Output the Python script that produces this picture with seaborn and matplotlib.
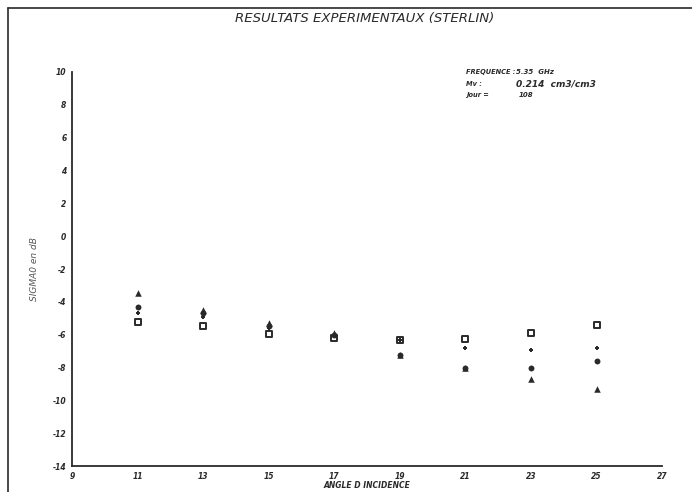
import matplotlib
matplotlib.use("Agg")
import matplotlib.pyplot as plt
import seaborn as sns
import pandas as pd
from matplotlib.lines import Line2D

angles = [11, 13, 15, 17, 19, 21, 23, 25]
s_square = [-5.2, -5.5, -5.95, -6.2, -6.3, -6.25, -5.9, -5.4]
s_plus = [-4.7, -4.9, -5.6, -6.1, -6.35, -6.8, -6.95, -6.8]
s_circle = [-4.3, -4.7, -5.5, -6.0, -7.25, -8.0, -8.0, -7.6]
s_triangle = [-3.45, -4.5, -5.3, -5.9, -7.25, -8.0, -8.7, -9.3]

x_ticks = [9, 11, 13, 15, 17, 19, 21, 23, 25, 27]
y_ticks = [10, 8, 6, 4, 2, 0, -2, -4, -6, -8, -10, -12, -14]

title = "RESULTATS EXPERIMENTAUX (STERLIN)"
xlabel = "ANGLE D INCIDENCE"
ylabel = "SIGMA0 en dB"
info_labels = ["FREQUENCE :", "Mv :", "Jour ="]
info_values = ["5.35  GHz", "0.214  cm3/cm3", "108"]

rows = []
for name, vals in [("square", s_square), ("plus", s_plus),
                   ("circle", s_circle), ("triangle", s_triangle)]:
    for a, v in zip(angles, vals):
        rows.append({"angle": a, "sigma": v, "serie": name})
df = pd.DataFrame(rows)

sns.set_theme(style="white")
plt.rcParams['font.family'] = ['DejaVu Sans']
ink = "#2a2a2a"

fig = plt.figure(figsize=(6.92, 4.92), dpi=100)
ax = fig.add_axes([0.104, 0.0528, 0.853, 0.8009])

styles = {
    "square": dict(marker="s", s=22, facecolors="white", edgecolors=ink, linewidths=1.4),
    "plus": dict(marker="P", s=12, color=ink, linewidth=0),
    "circle": dict(marker="o", s=18, color=ink, linewidth=0),
    "triangle": dict(marker="^", s=22, color=ink, linewidth=0),
}
for name in ["square", "circle", "triangle", "plus"]:
    sub = df[df["serie"] == name]
    sns.scatterplot(data=sub, x="angle", y="sigma", ax=ax, legend=False, zorder=3,
                    **styles[name])

ax.set_xlim(9, 27)
ax.set_ylim(-14, 10)
ax.set_xticks(x_ticks)
ax.set_yticks(y_ticks)
ax.set_xticklabels([str(t) for t in x_ticks], fontsize=5.5, style="italic",
                   fontweight="bold", color=ink)
ax.set_yticklabels([str(t) for t in y_ticks], fontsize=5.5, style="italic",
                   fontweight="bold", color=ink)
ax.tick_params(axis="both", direction="inout", length=4, width=1, colors=ink, pad=2)
ax.tick_params(axis="both", labelcolor=ink)
for side in ["top", "right"]:
    ax.spines[side].set_visible(False)
for side in ["left", "bottom"]:
    ax.spines[side].set_color(ink)
    ax.spines[side].set_linewidth(1.3)

ax.set_xlabel(xlabel, fontsize=5.5, style="italic", fontweight="bold", color=ink,
              labelpad=0)
ax.set_ylabel(ylabel, fontsize=6.5, style="italic", color="#555555", labelpad=10)

fig.text(0.527, 0.963, title, ha="center", va="center", fontsize=9.5,
         style="italic", color=ink)

ys = [0.853, 0.830, 0.806]
val_x = [0.745, 0.745, 0.75]
val_fs = [5.0, 6.5, 5.0]
for lab, val, yy, vx, fs in zip(info_labels, info_values, ys, val_x, val_fs):
    fig.text(0.673, yy, lab, ha="left", va="center", fontsize=4.8,
             style="italic", fontweight="bold", color=ink)
    fig.text(vx, yy, val, ha="left", va="center", fontsize=fs, style="italic",
             fontweight="bold", color=ink)

fig.add_artist(Line2D([0.012, 1.0], [0.983, 0.983], transform=fig.transFigure,
                      color=ink, linewidth=1.2))
fig.add_artist(Line2D([0.012, 0.012], [0.0, 0.983], transform=fig.transFigure,
                      color=ink, linewidth=1.2))

fig.savefig("out.png", dpi=100, facecolor="white")
